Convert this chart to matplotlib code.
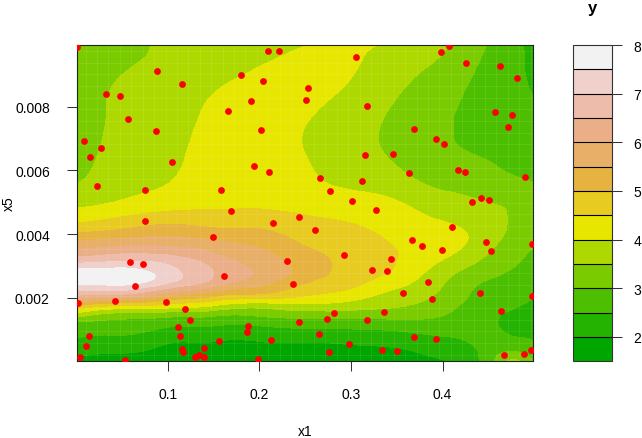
import numpy as np
import matplotlib
matplotlib.use("Agg")
import matplotlib.pyplot as plt
import matplotlib.tri as mtri

plt.rcParams['font.family'] = ['Liberation Sans', 'DejaVu Sans']

# surface, one list per x1 column, rows follow y_rows
x_cols = [0.0, 0.05, 0.1, 0.15, 0.2, 0.25, 0.3, 0.35, 0.4, 0.45, 0.475, 0.5]
y_rows = [0.01, 0.009, 0.008, 0.007, 0.006, 0.005, 0.0045, 0.004, 0.0035, 0.003, 0.0027, 0.0025, 0.002, 0.00175, 0.0015, 0.00125, 0.001, 0.0005, 0.0]
z_000 = [3.2, 3.2, 3.2, 3.2, 3.35, 3.85, 4.3, 5.1, 6.05, 7.25, 7.95, 7.7, 6.2, 5.0, 3.9, 3.0, 2.75, 2.3, 1.9]
z_005 = [3.3, 3.5, 3.6, 3.65, 3.75, 4.05, 4.55, 5.25, 6.25, 7.35, 7.9, 7.75, 5.9, 4.5, 3.4, 2.9, 2.65, 2.2, 1.8]
z_010 = [3.6, 3.65, 3.75, 3.85, 3.95, 4.25, 4.75, 5.4, 6.2, 7.05, 7.25, 7.1, 5.3, 4.3, 3.3, 2.75, 2.4, 1.97, 1.7]
z_015 = [3.65, 3.85, 4.08, 4.15, 4.15, 4.38, 4.7, 5.25, 5.9, 6.4, 6.5, 6.35, 4.85, 4.0, 3.2, 2.7, 2.35, 1.92, 1.6]
z_020 = [3.75, 4.08, 4.25, 4.2, 4.2, 4.4, 4.7, 5.15, 5.55, 5.88, 5.92, 5.72, 4.6, 3.7, 3.15, 2.7, 2.35, 1.9, 1.6]
z_025 = [3.97, 4.2, 4.1, 3.98, 4.05, 4.3, 4.55, 4.8, 5.07, 5.28, 5.25, 5.05, 4.4, 3.85, 3.3, 2.8, 2.45, 1.9, 1.65]
z_030 = [4.05, 4.02, 3.8, 3.7, 3.8, 4.2, 4.45, 4.6, 4.8, 4.85, 4.75, 4.65, 4.15, 3.75, 3.3, 2.8, 2.48, 1.97, 1.7]
z_035 = [3.95, 3.65, 3.45, 3.35, 3.55, 4.03, 4.25, 4.4, 4.5, 4.48, 4.35, 4.2, 3.75, 3.55, 3.25, 2.9, 2.55, 2.05, 1.8]
z_040 = [3.6, 3.3, 3.1, 3.05, 3.2, 3.7, 3.95, 4.2, 4.2, 3.85, 3.65, 3.55, 3.35, 3.2, 3.05, 2.85, 2.65, 2.3, 1.95]
z_045 = [2.97, 2.85, 2.8, 2.85, 3.1, 3.5, 3.7, 3.75, 3.55, 3.3, 3.1, 2.95, 2.75, 2.68, 2.6, 2.6, 2.6, 2.65, 2.75]
z_0475 = [2.7, 2.65, 2.65, 2.75, 2.95, 3.4, 3.45, 3.4, 3.2, 3.05, 2.9, 2.85, 2.65, 2.55, 2.45, 2.35, 2.4, 2.75, 3.6]
z_050 = [2.3, 2.4, 2.55, 2.7, 2.9, 3.15, 3.2, 3.12, 2.98, 2.8, 2.7, 2.65, 2.5, 2.4, 2.3, 2.3, 2.35, 2.55, 2.9]

levels = [1.5, 2, 2.5, 3, 3.5, 4, 4.5, 5, 5.5, 6, 6.5, 7, 7.5, 8]
colors = ["#00A600", "#24B300", "#4CBF00", "#7ACC00", "#ADD900", "#E6E600", "#E8CB20",
          "#E6B240", "#E8AF68", "#EBAF88", "#EEBCAB", "#F0D0CB", "#F2F2F2"]
colorbar_ticks = [2, 3, 4, 5, 6, 7, 8]
x_ticks = [0.1, 0.2, 0.3, 0.4]
y_ticks = [0.002, 0.004, 0.006, 0.008]

# design points
pts_x1 = [.0013, .0880, .1159, .0330, .0483, .1803, .2037, .2095, .2218, .1906, .1658, .0563, .0872, .2019, .0086,
          .0269, .0155, .1047, .1945, .2106, .0228, .0755, .1579, .3052, .3984, .4074, .4253, .4628, .4813, .2535,
          .2510, .3176, .4573, .4759, .4715, .3692, .3929, .4020, .3154, .3456, .3634, .2663, .3118, .2775, .4166,
          .4246, .4897, .4417, .4511, .3012, .3274, .4325, .1691, .0749, .2153, .2430, .1498, .2302, .0592, .0734,
          .1615, .2365, .0646, .0021, .0421, .0978, .1189, .1243, .2433, .1112, .1873, .1862, .0138, .1134, .0105,
          .1557, .2128, .1400, .1153, .1164, .0043, .1342, .1298, .1393, .0534, .1989, .2611, .4100, .3667, .3776,
          .3994, .4478, .4529, .4977, .2925, .3441, .3227, .3394, .3845, .3565, .4413, .4977, .3885, .4639, .3361,
          .2812, .2739, .3176, .2648, .3686, .3929, .2976, .3339, .3500, .2761, .4675, .4886, .4963]
pts_x5 = [.00988, .00912, .00873, .00841, .00833, .00900, .00880, .00974, .00974, .00817, .00787, .00761, .00723, .00727, .00691,
          .00669, .00642, .00625, .00615, .00594, .00550, .00538, .00538, .00957, .00971, .00992, .00939, .00927, .00890, .00859,
          .00821, .00802, .00784, .00774, .00737, .00730, .00700, .00682, .00649, .00652, .00592, .00577, .00566, .00535, .00601,
          .00595, .00580, .00513, .00508, .00503, .00477, .00500, .00472, .00440, .00435, .00455, .00392, .00316, .00312, .00306,
          .00268, .00243, .00238, .00183, .00191, .00186, .00164, .00130, .00124, .00108, .00111, .00093, .00079, .00081, .00050,
          .00064, .00068, .00043, .00039, .00029, .00014, .00021, .00013, .00014, .00005, .00009, .00412, .00422, .00381, .00362,
          .00349, .00375, .00347, .00368, .00335, .00322, .00288, .00285, .00251, .00216, .00215, .00206, .00195, .00158, .00154,
          .00151, .00134, .00130, .00085, .00076, .00072, .00054, .00035, .00032, .00030, .00021, .00024, .00035]

W, H = 642, 439
fig = plt.figure(figsize=(W / 100, H / 100), dpi=100)
ax = fig.add_axes([76.5 / W, 1 - 361.5 / H, (533 - 76.5) / W, (361.5 - 46) / H])
cax = fig.add_axes([572.7 / W, 1 - 362.3 / H, (612.3 - 572.7) / W, (362.3 - 46) / H])

# smooth the read surface with a refined triangulation, y scaled so cells are roughly square
Z = np.column_stack([z_000, z_005, z_010, z_015, z_020, z_025, z_030, z_035, z_040, z_045, z_0475, z_050])
X, Y = np.meshgrid(x_cols, y_rows)
tri = mtri.Triangulation(X.ravel(), Y.ravel() * 50)
refiner = mtri.UniformTriRefiner(tri)
tri_fine, z_fine = refiner.refine_field(Z.ravel(), subdiv=3)
tri_plot = mtri.Triangulation(tri_fine.x, tri_fine.y / 50, tri_fine.triangles)

cs = ax.tricontourf(tri_plot, np.clip(z_fine, 1.5, 8), levels=levels, colors=colors)

# faint seams of the raster cells in the original image
for k in range(40):
    ax.axvline(0.0004 + (0.4984 / 40) * (k + 0.8), color='white', alpha=0.09, lw=0.7, zorder=2)
for k in range(27):
    ax.axhline(0.00003 + (0.00991 / 27) * (k + 0.5), color='white', alpha=0.09, lw=0.7, zorder=2)

ax.scatter(pts_x1, pts_x5, s=24, c='#FF0000', linewidths=0, zorder=3)

ax.set_xlim(0.0004, 0.4988)
ax.set_ylim(0.00003, 0.00994)
ax.set_xticks(x_ticks)
ax.set_xticklabels(["0.1", "0.2", "0.3", "0.4"])
ax.set_yticks(y_ticks)
ax.set_yticklabels(["0.002", "0.004", "0.006", "0.008"])
ax.tick_params(length=7.2, width=0.75, labelsize=10, color='#333333', pad=12)
for s in ax.spines.values():
    s.set_linewidth(0.8)
    s.set_color('#222222')

cb = fig.colorbar(cs, cax=cax, ticks=colorbar_ticks, drawedges=True)
cb.dividers.set_color('black')
cb.dividers.set_linewidth(0.8)
cb.outline.set_linewidth(0.8)
cb.outline.set_edgecolor('#333333')
cax.tick_params(length=7.2, width=0.75, labelsize=10, color='#333333', pad=8)

fig.text(305 / W, 1 - 432 / H, "x1", ha='center', va='center', fontsize=10)
fig.text(9 / W, 1 - 204 / H, "x5", ha='center', va='center', rotation=90, fontsize=10)
fig.text(592 / W, 1 - 8 / H, "y", ha='center', va='center', fontsize=12, fontweight='bold')

fig.savefig("out.png", dpi=100)
